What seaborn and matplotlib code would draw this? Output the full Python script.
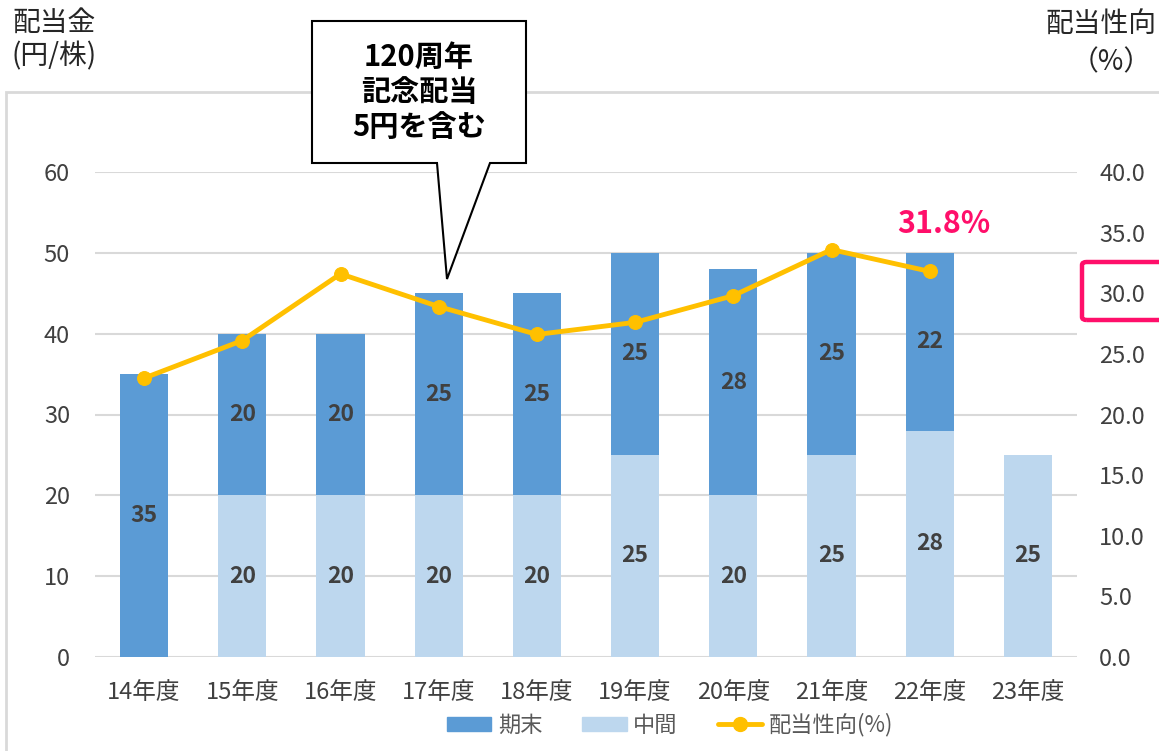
import numpy as np
import pandas as pd
import matplotlib
matplotlib.use("Agg")
import matplotlib.pyplot as plt
from matplotlib.patches import Polygon, Rectangle, FancyBboxPatch
from matplotlib.lines import Line2D
from matplotlib.patches import Patch
import seaborn as sns

# ---- data ----
years = ["14年度", "15年度", "16年度", "17年度", "18年度", "19年度", "20年度", "21年度", "22年度", "23年度"]
interim = [0, 20, 20, 20, 20, 25, 20, 25, 28, 25]        # 中間
year_end = [35, 20, 20, 25, 25, 25, 28, 25, 22, 0]       # 期末
payout = [23.0, 26.1, 31.6, 28.9, 26.6, 27.6, 29.8, 33.6, 31.8]  # 配当性向(%)
left_ticks = [0, 10, 20, 30, 40, 50, 60]
right_ticks = [0, 5, 10, 15, 20, 25, 30, 35, 40]

sns.set_theme(style="white")
plt.rcParams['font.family'] = ['Noto Sans CJK JP', 'DejaVu Sans']

DARK = "#5B9BD5"
LIGHT = "#BDD7EE"
GOLD = "#FFC000"
PINK = "#FF0F6A"
TXT = "#404040"
GRID = "#D9D9D9"

W, H = 1159, 751
fig = plt.figure(figsize=(W / 100, H / 100), dpi=100)

def fx(px):
    return px / W

def fy(py):
    return 1 - py / H

ax = fig.add_axes([fx(95), fy(657), fx(1077) - fx(95), fy(172) - fy(657)])

df = pd.DataFrame({"year": years, "interim": interim, "year_end": year_end})
df["total"] = df["interim"] + df["year_end"]

sns.barplot(data=df, x="year", y="total", color=DARK, saturation=1, width=0.49, ax=ax, zorder=2, linewidth=0)
sns.barplot(data=df, x="year", y="interim", color=LIGHT, saturation=1, width=0.49, ax=ax, zorder=3, linewidth=0)

ax.set_ylim(0, 60)
ax.set_xlim(-0.5, len(years) - 0.5)
ax.set_yticks(left_ticks)
ax.yaxis.grid(True, color=GRID, lw=1.5, zorder=0)
ax.set_axisbelow(True)
for s in ax.spines.values():
    s.set_visible(False)
ax.axhline(0, color=GRID, lw=2, zorder=1)
ax.set_xlabel("")
ax.set_ylabel("")
ax.tick_params(axis="both", length=0, labelsize=17, colors=TXT)
ax.tick_params(axis="y", pad=18)
ax.tick_params(axis="x", pad=17)

# bar labels
for i, (a, b) in enumerate(zip(interim, year_end)):
    if a > 0:
        ax.text(i, a / 2, f"{a}", ha="center", va="center", fontsize=16.5, fontweight="bold", color=TXT, zorder=5)
    if b > 0:
        ax.text(i, a + b / 2, f"{b}", ha="center", va="center", fontsize=16.5, fontweight="bold", color=TXT, zorder=5)

# payout line
ax2 = ax.twinx()
sns.lineplot(x=np.arange(len(payout)), y=payout, ax=ax2, color=GOLD, lw=3.5,
             marker="o", markersize=10, markeredgecolor=GOLD, zorder=6)
ax2.set_ylim(0, 40)
ax2.set_xlim(-0.5, len(years) - 0.5)
ax2.set_yticks(right_ticks)
ax2.set_yticklabels([f"{v:.1f}" for v in right_ticks])
ax2.tick_params(axis="y", length=0, labelsize=17, colors=TXT, pad=16)
ax2.grid(False)
for s in ax2.spines.values():
    s.set_visible(False)

# 31.8% label
ax2.text(8.14, payout[8] + 3.9, f"{payout[8]}%", ha="center", va="center",
         fontsize=22, fontweight="bold", color=PINK)

# axis titles
fig.text(fx(12), fy(8), "配当金\n(円/株)", ha="left", va="top", fontsize=20, color="#262626", linespacing=1.15)
fig.text(fx(1045), fy(10), "配当性向", ha="left", va="top", fontsize=20, color="#262626")
fig.text(fx(1111), fy(62), "（%）", ha="center", va="center", fontsize=20, color="#262626")

# outer frame
fig.patches.append(Rectangle((fx(6), fy(1000)), fx(1300), fy(92) - fy(1000), transform=fig.transFigure,
                             fill=False, ec=GRID, lw=2, zorder=0))

# pink highlight box around 30.0
fig.patches.append(FancyBboxPatch((fx(1082), fy(320)), fx(120), fy(262) - fy(320),
                                  boxstyle="round,pad=0,rounding_size=0.004", transform=fig.transFigure,
                                  fill=False, ec=PINK, lw=3.2, zorder=10))

# callout
pts = [(312, 21), (526, 21), (526, 163), (490, 163), (447, 279), (437, 163), (312, 163)]
fig.patches.append(Polygon([(fx(x), fy(y)) for x, y in pts], closed=True, transform=fig.transFigure,
                           fc="white", ec="black", lw=1.5, zorder=10))
fig.text(fx(419), fy(92), "120周年\n記念配当\n5円を含む", ha="center", va="center", fontsize=21,
         fontweight="bold", color="black", linespacing=1.22, zorder=11)

# legend
handles = [Patch(color=DARK, label="期末"), Patch(color=LIGHT, label="中間"),
           Line2D([0], [0], color=GOLD, lw=3.5, marker="o", markersize=10, label="配当性向(%)")]
leg = fig.legend(handles=handles, loc="center", bbox_to_anchor=(fx(670), fy(725)), ncol=3, frameon=False,
                 fontsize=16, handlelength=2.0, handleheight=0.65, columnspacing=1.8, handletextpad=0.3)
for t in leg.get_texts():
    t.set_color("#595959")

fig.savefig("out.png", dpi=100)
